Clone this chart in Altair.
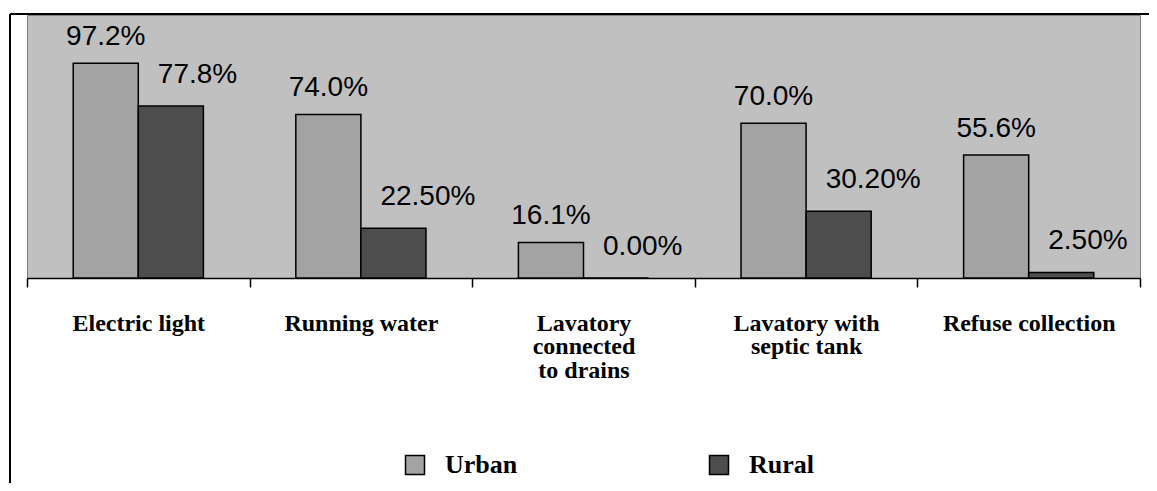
import altair as alt
import pandas as pd

categories = [
    "Electric light",
    "Running water",
    "Lavatory\nconnected\nto drains",
    "Lavatory with\nseptic tank",
    "Refuse collection",
]
urban_values = [97.2, 74.0, 16.1, 70.0, 55.6]
rural_values = [77.8, 22.5, 0.0, 30.2, 2.5]
urban_labels = ["97.2%", "74.0%", "16.1%", "70.0%", "55.6%"]
rural_labels = ["77.8%", "22.50%", "0.00%", "30.20%", "2.50%"]
series = ["Urban", "Rural"]
colors = ["#A3A3A3", "#4D4D4D"]

rows = []
for c, v, l in zip(categories, urban_values, urban_labels):
    rows.append({"category": c, "series": "Urban", "value": v, "label": l})
for c, v, l in zip(categories, rural_values, rural_labels):
    rows.append({"category": c, "series": "Rural", "value": v, "label": l})
df = pd.DataFrame(rows)

x_enc = alt.X(
    "category:N",
    sort=categories,
    scale=alt.Scale(paddingInner=0, paddingOuter=0),
    axis=alt.Axis(
        title=None,
        labelAngle=0,
        labelExpr="split(datum.label, '\\n')",
        labelFont="Liberation Serif",
        labelFontWeight="bold",
        labelFontSize=24,
        labelLineHeight=23.5,
        labelColor="black",
        labelBaseline="top",
        labelPadding=24,
        labelLimit=0,
        labelOverlap=False,
        domainColor="black",
        domainWidth=1.5,
        tickColor="black",
        tickWidth=1.5,
        tickSize=9,
        tickBand="extent",
        grid=False,
    ),
)
xoff_enc = alt.XOffset(
    "series:N",
    scale=alt.Scale(domain=series, paddingOuter=0.71, paddingInner=0),
)
y_enc = alt.Y("value:Q", scale=alt.Scale(domain=[0, 119], nice=False), axis=None)

base = alt.Chart(df)

bars = base.mark_bar(stroke="black", strokeWidth=1.5).encode(
    x=x_enc,
    xOffset=xoff_enc,
    y=y_enc,
    color=alt.Color(
        "series:N",
        scale=alt.Scale(domain=series, range=colors),
        sort=series,
        legend=alt.Legend(
            title=None,
            orient="none",
            legendX=375,
            legendY=437,
            direction="horizontal",
            columns=2,
            padding=0,
            symbolType="square",
            symbolSize=361,
            symbolStrokeColor="black",
            symbolStrokeWidth=1.5,
            symbolOpacity=1,
            labelFont="Liberation Serif",
            labelFontWeight="bold",
            labelFontSize=26,
            labelColor="black",
            labelOffset=17,
            columnPadding=188,
        ),
    ),
)

urban_text = base.transform_filter(alt.datum.series == "Urban").mark_text(
    font="Liberation Sans", fontSize=28, color="black",
    align="center", baseline="alphabetic", dy=-18,
).encode(x=x_enc, xOffset=xoff_enc, y=y_enc, text="label:N")

rural_text = base.transform_filter(alt.datum.series == "Rural").mark_text(
    font="Liberation Sans", fontSize=28, color="black",
    align="left", baseline="alphabetic", dx=-13, dy=-23,
).encode(x=x_enc, xOffset=xoff_enc, y=y_enc, text="label:N")

frame_df = pd.DataFrame({"a": [0]})
frame_left = alt.Chart(frame_df).mark_rule(color="black", strokeWidth=2).encode(
    x=alt.value(-17), y=alt.value(-1), y2=alt.value(470)
)
frame_top = alt.Chart(frame_df).mark_rule(color="black", strokeWidth=2).encode(
    x=alt.value(-17), x2=alt.value(1125), y=alt.value(-1)
)

chart = (
    alt.layer(bars, urban_text, rural_text, frame_left, frame_top)
    .properties(
        width=1113,
        height=263,
        autosize=alt.AutoSizeParams(type="none"),
        padding={"left": 19, "top": 7, "right": 9, "bottom": 205},
        background="white",
    )
    .configure_view(fill="#C0C0C0", stroke="#808080", strokeWidth=1)
)

chart.save("out.html", embed_options={"renderer": "svg", "actions": False})
